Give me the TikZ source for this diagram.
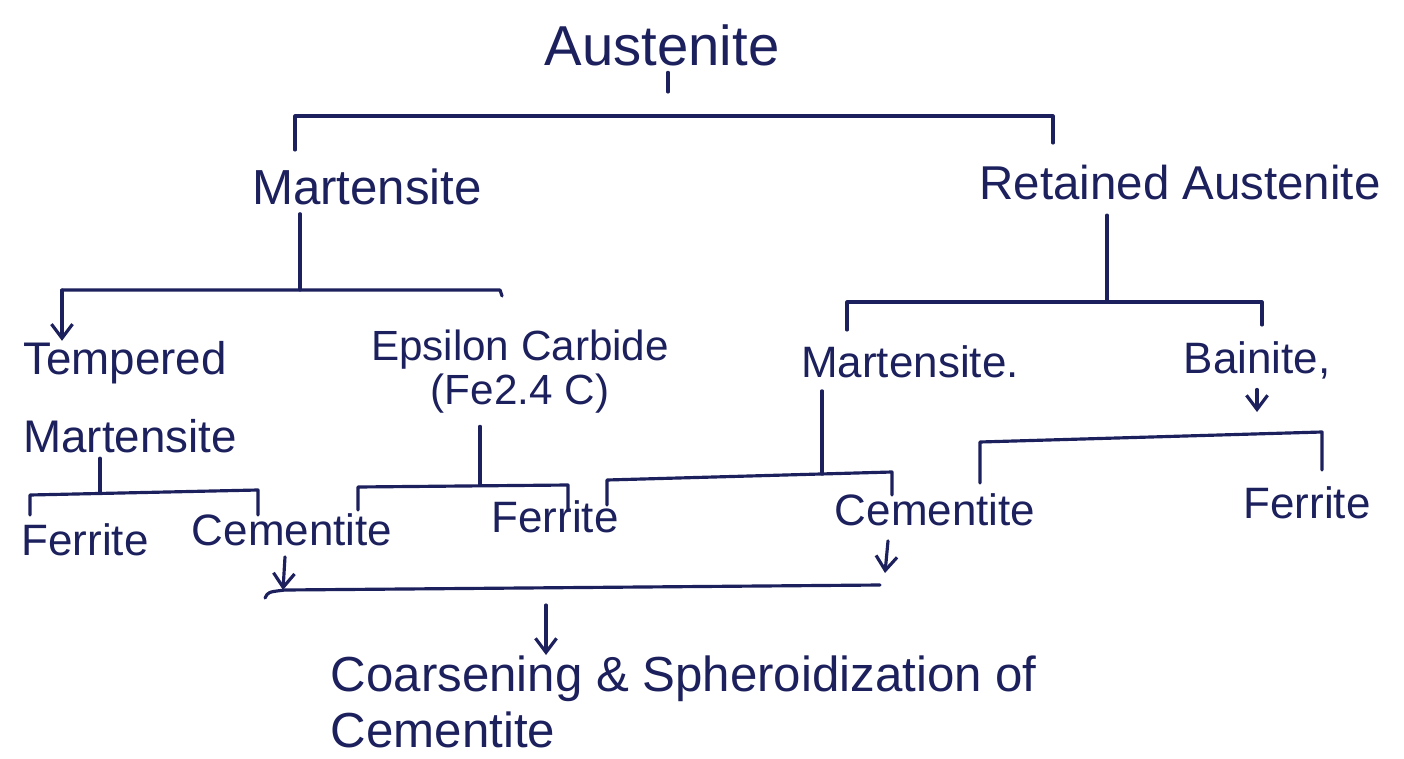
\documentclass[tikz,border=0pt]{standalone}
\usepackage{fontspec}
\setmainfont{Liberation Sans}
\usetikzlibrary{arrows.meta}
\definecolor{ink}{RGB}{28,32,92}
\begin{document}
\begin{tikzpicture}[x=0.01cm,y=-0.01cm,
  lbl/.style={text=ink, inner sep=0pt, font=\fontsize{12.5}{15}\selectfont},
  big/.style={lbl, font=\fontsize{14}{17}\selectfont},
  ln/.style={draw=ink, line width=0.9pt, line cap=round, line join=round},
  arr/.style={ln, -{Straight Barb[length=4pt,width=6pt]}}]
\useasboundingbox[fill=white] (0,0) rectangle (1404,758);

% nodes
\node[big, font=\fontsize{16}{19}\selectfont] (aus) at (662,45) {Austenite};
\node[big] (mar) at (367,187) {Martensite};
\node[big, font=\fontsize{13.5}{16}\selectfont] (ret) at (1180,183) {Retained Austenite};
\node[lbl, align=left, font=\fontsize{13}{22}\selectfont] (tem) at (130,397) {Tempered\\Martensite};
\node[lbl, align=center, font=\fontsize{12}{12.5}\selectfont] (eps) at (520,372) {Epsilon Carbide\\(Fe2.4 C)};
\node[lbl] (mar2) at (910,362) {Martensite.};
\node[lbl] (bai) at (1257,360) {Bainite,};
\node[lbl] (fe1) at (85,540) {Ferrite};
\node[lbl] (ce1) at (292,530) {Cementite};
\node[lbl] (fe2) at (555,517) {Ferrite};
\node[lbl] (ce2) at (935,510) {Cementite};
\node[lbl] (fe3) at (1307,503) {Ferrite};
\node[big, align=left, anchor=north west, font=\fontsize{14}{16}\selectfont] (coa) at (330,655) {Coarsening \& Spheroidization of\\Cementite};

% coordinates of bracket corners
\coordinate (a0) at (668,92);
\coordinate (a1) at (668,116);
\coordinate (tl) at (295,116);
\coordinate (tld) at (295,150);
\coordinate (tr) at (1053,116);
\coordinate (trd) at (1053,143);

\coordinate (m0) at (300,290);
\coordinate (ml) at (62,290);
\coordinate (mr) at (500,290);
\coordinate (mrd) at (502,296);

\coordinate (r0) at (1107,302);
\coordinate (rl) at (847,302);
\coordinate (rr) at (1262,302);
\coordinate (rld) at (847,330);
\coordinate (rrd) at (1262,325);

\coordinate (bt) at (1257,412);
\coordinate (bl) at (980,442);
\coordinate (br) at (1322,432);
\coordinate (bld) at (980,483);
\coordinate (brd) at (1322,470);

\coordinate (k0) at (822,474);
\coordinate (kl) at (607,480);
\coordinate (kr) at (892,472);
\coordinate (kld) at (607,505);
\coordinate (krd) at (892,495);

\coordinate (e0) at (480,485);
\coordinate (el) at (358,487);
\coordinate (er) at (568,485);
\coordinate (eld) at (358,510);
\coordinate (erd) at (568,510);

\coordinate (t0) at (100,492);
\coordinate (tl2) at (30,495);
\coordinate (tr2) at (258,490);
\coordinate (tld2) at (30,515);
\coordinate (trd2) at (258,515);

\coordinate (c1) at (283,590);
\coordinate (c2) at (885,573);
\coordinate (gl) at (265,598);
\coordinate (gl2) at (285,590);
\coordinate (gr) at (880,585);
\coordinate (g0) at (546,605);

% connectors
\draw[ln] (aus.south -| a0) ++(0,6) -- (a0);
\draw[ln] (tld) -- (tl) -- (a1) -- (tr) -- (trd);

\draw[ln] (mar.south -| m0) ++(0,8) -- (m0);
\draw[ln] (mrd) -- (mr) -- (m0) -- (ml);
\draw[arr] (ml) -- (tem.north -| ml);

\draw[ln] (ret.south -| r0) ++(0,14) -- (r0);
\draw[ln] (rld) -- (rl) -- (rr) -- (rrd);

\draw[arr] (bai.south -| bt) ++(0,10) -- (bt);
\draw[ln] (bld) -- (bl) -- (br) -- (brd);

\draw[ln] (mar2.south -| k0) ++(0,12) -- (k0);
\draw[ln] (kld) -- (kl) -- (kr) -- (krd);

\draw[ln] (eps.south -| e0) ++(0,12) -- (e0);
\draw[ln] (eld) -- (el) -- (er) -- (erd);

\draw[ln] (tem.south -| t0) ++(0,5) -- (t0);
\draw[ln] (tld2) -- (tl2) -- (tr2) -- (trd2);

\draw[arr] (ce1.south) ++(-7,10) -- (c1);
\draw[arr] (ce2.south) ++(-47,14) -- (c2);
\draw[ln] (gl) .. controls (268,592) .. (gl2) -- (gr);
\draw[arr] (g0) -- (coa.north -| g0);
\end{tikzpicture}
\end{document}
